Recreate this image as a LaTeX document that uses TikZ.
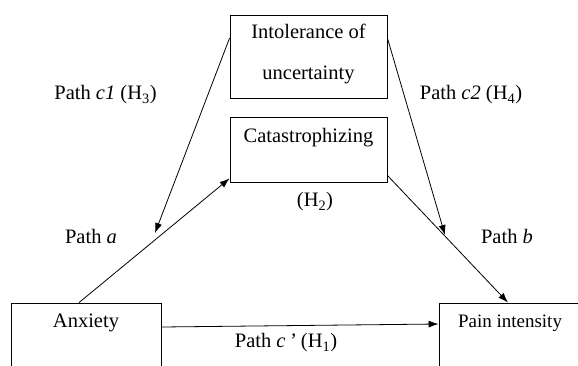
\documentclass[tikz,border=0pt]{standalone}
\usepackage{fontspec}
\setmainfont{Liberation Serif}
\usetikzlibrary{arrows.meta}

\begin{document}
\begin{tikzpicture}[->,>={Latex[length=10pt,width=7pt]},x=1pt,y=-1pt,line width=0.8pt,
  every node/.style={font=\fontsize{20.5}{24}\selectfont,inner sep=0pt},
  box/.style={draw,rectangle,minimum width=157pt}]
\useasboundingbox (0,0) rectangle (578,365);
\clip (0,0) rectangle (578,365);
\node[box,minimum height=83pt] (iu) at (308.5,56.5) {};
\node[box,minimum height=65pt] (cat) at (308.5,149.5) {};
\node[draw,minimum width=150pt,minimum height=87pt] (anx) at (86,346.5) {};
\node[draw,minimum width=142pt,minimum height=87pt] (pain) at (510,346.5) {};
% box texts
\node[align=center,font=\fontsize{20.5}{41}\selectfont] (iutxt) at (308.5,53.5) {Intolerance of\\uncertainty};
\node (cattxt) at (308.5,138) {Catastrophizing};
\node (anxtxt) at (86,323) {Anxiety};
\node[font=\fontsize{19}{22}\selectfont] (paintxt) at (510,323) {Pain intensity};
% free ends
\coordinate (c1end) at (155,233);
\coordinate (c2end) at (445,235);
% paths
\draw ([yshift=18.5pt]iu.west) -- (c1end);
\draw ([yshift=18.5pt]iu.east) -- (c2end);
\draw ([xshift=-7pt]anx.north) -- ([yshift=4pt]cat.south west);
\draw ([yshift=7pt]cat.south east) -- ([xshift=-2pt]pain.north);
\draw ([yshift=19.5pt]anx.east) -- ([yshift=22.5pt]pain.west);
% labels
\node (c1lab) at (105.5,95) {Path \textit{c1} (H\textsubscript{3})};
\node (c2lab) at (471,95) {Path \textit{c2} (H\textsubscript{4})};
\node (h2lab) at (315,202) {(H\textsubscript{2})};
\node (alab) at (91,236) {Path \textit{a}};
\node (blab) at (507,236) {Path \textit{b}};
\node (cplab) at (286,343) {Path \textit{c\,’} (H\textsubscript{1})};
\end{tikzpicture}
\end{document}
